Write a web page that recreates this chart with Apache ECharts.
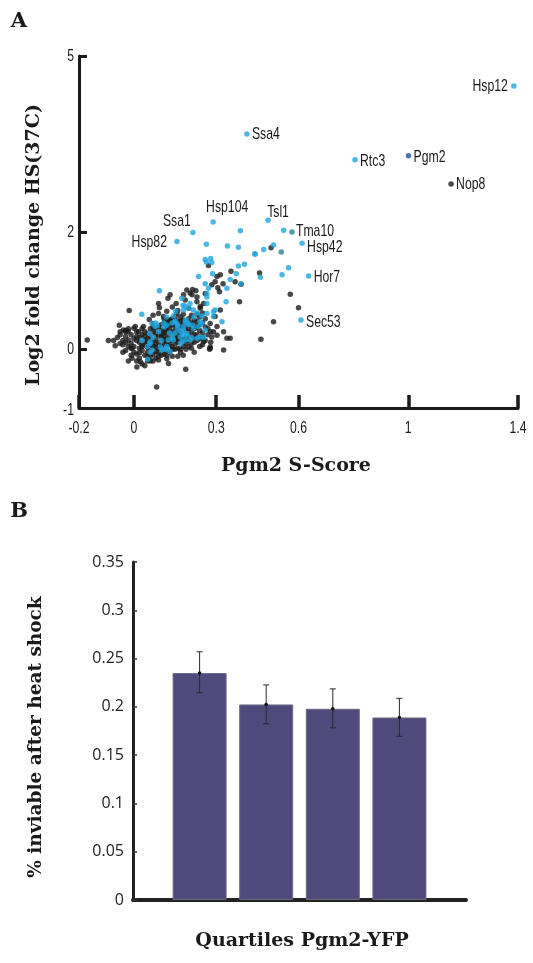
<!DOCTYPE html>
<html><head><meta charset="utf-8">
<script src="https://cdn.jsdelivr.net/npm/echarts@6/dist/echarts.min.js"></script>
<style>html,body{margin:0;padding:0;background:#fff}#c{width:533px;height:963px}</style>
</head><body><div id="c"></div>
<script>
// ---------- Panel A data ----------
const xTicks = [-0.2, 0, 0.3, 0.6, 1, 1.4];
const yTicks = [-1, 0, 2, 5];
const blackPts = [
[-0.17,0.16],[-0.093,0.15],[-0.074,0.15],[-0.068,0.06],[-0.053,0.41],[-0.05,0.30],[-0.038,0.33],[-0.029,0.32],[-0.04,0.15],[-0.02,0.16],[-0.017,0.66],[-0.02,0.30],[0.0,0.36],[0.005,0.39],[0.017,0.30],[0.035,0.39],
[-0.007,0.02],[-0.007,-0.15],[0.023,-0.21],[0.011,-0.30],[0.126,-0.24],[0.09,-0.18],[0.083,-0.64],[0.189,-0.34],
[0.132,0.93],[0.124,0.87],[0.154,0.78],[0.093,0.71],[0.09,0.61],[0.056,0.51],[0.108,0.56],[0.132,0.50],[0.069,0.44],
[0.205,0.96],[0.23,0.89],[0.157,0.61],[0.187,0.84],[0.242,0.73],
[0.193,1.01],[0.214,1.02],[0.226,1.00],[0.181,0.93],[0.212,0.93],[0.26,0.95],[0.254,0.78],[0.23,0.81],[0.242,0.70],
[0.315,0.67],[0.296,0.56],[0.327,0.30],[0.339,0.19],[0.351,0.19],[0.29,0.30],[0.303,0.24],[0.284,0.21],[0.327,-0.01],[0.278,0.02],
[0.278,0.44],[0.303,0.39],[0.217,0.21],[0.254,0.13],[0.278,0.04],[0.276,0.0],
[0.303,1.24],[0.315,1.27],[0.296,1.15],[0.325,1.12],[0.284,1.10],[0.369,1.15],[0.391,1.11],[0.312,0.98],[0.306,1.05],[0.385,0.81],
[0.57,0.94],[0.60,0.71],[0.509,0.47],[0.463,0.17],
[0.272,1.43],[0.354,1.33],[0.458,1.30],[0.50,1.73],
[0.00,0.05],[0.01,-0.08],[0.02,0.12],[0.03,-0.02],[0.01,0.22],[0.04,0.08],[0.02,-0.15],[0.04,-0.10],[0.05,0.18],[0.03,0.25],[0.00,-0.05],[0.05,-0.05],[0.04,0.30],[0.02,0.02],[0.05,0.03],[0.01,0.15],[0.03,-0.25],[0.05,-0.20],[-0.01,0.10],[0.04,0.16],
[0.06,0.02],[0.07,-0.08],[0.06,0.22],[0.08,0.10],[0.07,0.30],[0.09,-0.05],[0.08,0.18],[0.10,0.05],[0.06,-0.12],[0.09,0.25],[0.07,0.14],[0.10,0.32],[0.08,-0.15],[0.09,0.38],[0.10,-0.10],[0.06,0.35],[0.07,-0.20],[0.08,0.04],[0.10,0.20],[0.09,0.12],[0.06,0.08],[0.05,0.12],
[0.11,0.10],[0.12,0.28],[0.11,-0.02],[0.13,0.15],[0.12,0.40],[0.14,0.05],[0.13,0.35],[0.15,0.22],[0.11,0.22],[0.12,-0.10],[0.14,0.30],[0.13,-0.05],[0.15,0.10],[0.11,0.45],[0.14,0.42],[0.12,0.08],[0.15,0.38],[0.13,0.24],[0.14,-0.12],[0.15,0.00],[0.11,0.33],[0.12,0.18],
[0.16,0.12],[0.17,0.40],[0.16,0.25],[0.18,0.05],[0.17,0.18],[0.19,0.32],[0.18,0.45],[0.16,0.02],[0.19,0.10],[0.17,-0.05],[0.20,0.25],[0.18,0.50],[0.19,0.40],[0.16,0.48],[0.20,0.05],[0.17,0.55],[0.18,-0.10],[0.20,0.35],[0.19,0.20],[0.16,-0.12],
[0.21,0.30],[0.22,0.12],[0.21,0.45],[0.23,0.25],[0.22,0.50],[0.24,0.05],[0.23,0.38],[0.25,0.28],[0.24,0.55],[0.21,0.02],[0.26,0.15],[0.25,0.45],[0.22,0.35],[0.26,0.38],[0.23,0.60],[0.27,0.25],[0.24,0.18],[0.25,0.08],[0.21,0.58],[0.22,-0.05],
[-0.02,0.05],[-0.03,0.22],[-0.04,0.08],[-0.01,-0.10],[-0.02,-0.20],[-0.01,0.25],[-0.03,-0.02],[0.00,0.18],
[0.09,0.78],[0.12,0.65],[0.07,0.58],[0.14,0.72],[0.16,0.66],[0.11,0.52],[0.18,0.60],[0.20,0.70],
[-0.06,0.20],[-0.05,0.10],[-0.04,-0.05],[-0.03,0.12],[-0.02,0.35],[-0.01,0.02],[-0.05,0.25],[-0.03,0.30],
[0.01,0.30],[0.02,0.20],[0.03,0.08],[0.04,0.22],[0.02,-0.06],[0.03,0.35],[0.05,0.27],[0.06,0.15],[0.07,0.05],[0.08,0.26],[0.09,0.02],[0.07,0.38],[0.08,0.33],[0.06,-0.20],[0.04,-0.28],[0.09,-0.12],[0.10,0.42],[0.01,-0.20],[0.03,0.05],[0.05,-0.12],[0.08,-0.04],[0.10,0.26],
[0.11,0.15],[0.12,0.35],[0.13,0.08],[0.14,0.15],[0.15,0.30],[0.16,0.18],[0.17,0.28],[0.18,0.15],[0.19,0.45],[0.11,-0.08],[0.13,0.48],[0.15,0.55],[0.12,0.50],[0.17,0.48],[0.14,0.00],[0.16,0.35],[0.18,0.38],[0.19,0.00],[0.20,0.15],[0.11,0.28],[0.13,0.42],[0.15,0.16],[0.17,0.00],[0.12,-0.16],[0.14,0.52],
[0.21,0.10],[0.22,0.25],[0.23,0.15],[0.24,0.32],[0.25,0.20],[0.26,0.52],[0.22,0.42],[0.23,0.48],[0.24,0.42],[0.27,0.35],[0.28,0.30],[0.21,0.38],[0.25,0.62],[0.20,0.52],[0.28,0.12]
];
const bluePts = [
[0.093,1.00],[0.175,0.87],[0.029,0.60],[0.152,0.65],[0.187,0.74],[0.118,0.55],[0.144,0.57],[0.066,0.44],[0.084,0.41],[0.12,0.41],[0.157,0.44],[0.181,0.39],[0.057,0.27],[0.059,0.13],[0.066,-0.01],[0.05,-0.17],[0.102,-0.01],[0.12,0.02],[0.132,-0.04],[0.144,0.16],[0.169,0.21],[0.193,0.24],
[0.266,0.95],[0.266,0.78],[0.179,0.75],[0.205,0.78],[0.232,0.62],[0.248,0.57],[0.266,0.61],[0.29,0.56],[0.078,0.39],[0.108,0.45],[0.139,0.45],[0.16,0.35],[0.17,0.30],[0.18,0.25],[0.15,0.28],[0.195,0.45],[0.215,0.41],[0.236,0.39],[0.248,0.44],[0.059,0.10],[0.096,0.04],[0.114,0.0],[0.126,0.16],[0.175,0.13],[0.187,0.16],[0.242,0.21],
[0.236,1.24],[0.287,1.29],[0.373,1.29],[0.351,1.19],[0.461,1.23],[0.54,1.27],[0.564,1.39],[0.26,1.12],[0.272,1.04],[0.266,0.89],[0.339,1.04],[0.336,0.81],[0.29,0.64],[0.296,0.67],[0.199,0.70],[0.217,0.67],[0.181,0.67],[0.321,0.47],[0.187,0.47],[0.217,0.36],[0.242,0.47],[0.193,0.27],[0.23,0.19],[0.205,0.16],[0.26,0.33],[0.254,0.20],[0.39,1.12],
[0.264,1.49],[0.284,1.48],[0.381,1.42],[0.403,1.45],[0.442,1.62],[0.388,2.02],[0.264,1.79],[0.341,1.76],[0.381,1.74],[0.441,1.63],[0.473,1.70],[0.509,1.78],[0.546,2.03],[0.26,1.53],[0.28,1.55],
[0.05,0.05],[0.06,-0.05],[0.07,0.20],[0.09,0.30],[0.10,0.15],[0.11,0.38],[0.12,0.05],[0.13,0.28],[0.14,0.20],[0.15,0.48],[0.16,0.40],[0.17,0.10],[0.18,0.33],[0.19,0.50],[0.20,0.42],[0.21,0.20],[0.22,0.55],[0.08,0.45],[0.03,0.15]
];
const tealPts = [[0.537,1.66]];
const geneNames = ['Hsp12','Ssa4','Rtc3','Pgm2','Nop8','Hsp104','Ssa1','Hsp82','Tsl1','Tma10','Hsp42','Hor7','Sec53'];
const geneX = [1.385,0.412,0.806,1.001,1.156,0.289,0.215,0.157,0.489,0.576,0.613,0.637,0.609];
const geneY = [4.49,3.67,3.23,3.30,2.82,2.17,1.99,1.84,2.20,2.00,1.81,1.25,0.50];
const geneGroup = ['hs','hs','hs','pgm2','other','hs','hs','hs','hs','teal','hs','hs','hs'];

// ---------- Panel B data ----------
const quartiles = ['Q1','Q2','Q3','Q4'];
const inviable = [0.235,0.2025,0.198,0.189];
const errLow = [0.2147,0.1825,0.1783,0.1695];
const errHigh = [0.257,0.2227,0.2186,0.2088];

// ---------- styles ----------
const colors = {other:'#1c1b1b', hs:'#1ea5de', teal:'#2a8099', pgm2:'#1f4ea6'};
// text anchor offsets (px) relative to the dot, and alignment
const labelPlacement = {
  Hsp12:{dx:-6, dy:0, align:'right'},
  Ssa4:{dx:5, dy:0, align:'left'},
  Rtc3:{dx:5, dy:1, align:'left'},
  Pgm2:{dx:5, dy:2, align:'left'},
  Nop8:{dx:5, dy:0, align:'left'},
  Hsp104:{dx:14, dy:-15, align:'center'},
  Ssa1:{dx:-16, dy:-11, align:'center'},
  Hsp82:{dx:-10, dy:1, align:'right'},
  Tsl1:{dx:10, dy:-8, align:'center'},
  Tma10:{dx:4, dy:-1, align:'left'},
  Hsp42:{dx:5, dy:4, align:'left'},
  Hor7:{dx:5, dy:1, align:'left'},
  Sec53:{dx:5, dy:2, align:'left'}
};
const condFont = "17px 'Liberation Sans',Arial,sans-serif";
const condScale = 0.72;
const serif = "'DejaVu Serif',serif";

function groupData(group, pts) {
  const data = pts.map(p => [p[0], p[1]]);
  geneNames.forEach((n, i) => { if (geneGroup[i] === group) data.push([geneX[i], geneY[i]]); });
  return data;
}
function scatterSeries(group, pts) {
  return {type:'scatter', xAxisIndex:0, yAxisIndex:0, symbolSize:5.5, silent:true,
    itemStyle:{color:colors[group]}, data:groupData(group, pts), z:group==='other'?2:3};
}
function condText(x, y, text, align) {
  return {type:'text', x:x, y:y, scaleX:condScale, scaleY:1,
    style:{text:text, font:condFont, fill:'#1a1a1a', align:align, verticalAlign:'middle'}};
}

const chart = echarts.init(document.getElementById('c'), null, {renderer:'canvas'});
const axisCol = '#1a1a1a';
chart.setOption({
  animation:false,
  backgroundColor:'#fff',
  grid:[
    {left:79, top:56, width:439, height:352},
    {left:133, top:562, width:333, height:338}
  ],
  xAxis:[
    {gridIndex:0, type:'value', min:-0.2, max:1.4, interval:0.1,
     axisLine:{onZero:false, lineStyle:{color:axisCol, width:3}},
     axisTick:{inside:true, length:13, customValues:xTicks, lineStyle:{color:axisCol, width:3.5}},
     axisLabel:{show:false},
     splitLine:{show:false}},
    {gridIndex:1, type:'value', min:0, max:5,
     axisLine:{onZero:false, lineStyle:{color:'#222', width:4}},
     axisTick:{show:false}, axisLabel:{show:false}, splitLine:{show:false}}
  ],
  yAxis:[
    {gridIndex:0, type:'value', min:-1, max:5, interval:1,
     axisLine:{onZero:false, lineStyle:{color:axisCol, width:3}},
     axisTick:{inside:true, length:8, customValues:yTicks, lineStyle:{color:axisCol, width:3}},
     axisLabel:{show:false},
     splitLine:{show:false}},
    {gridIndex:1, type:'value', min:0, max:0.35, interval:0.05,
     axisLine:{onZero:false, lineStyle:{color:'#222', width:3}},
     axisTick:{inside:true, length:4, lineStyle:{color:'#333', width:1.5}},
     axisLabel:{margin:9, fontFamily:"'Open Sans',sans-serif", fontSize:16, color:'#222'},
     splitLine:{show:false}}
  ],
  series:[
    scatterSeries('other', blackPts),
    scatterSeries('hs', bluePts),
    scatterSeries('teal', tealPts),
    scatterSeries('pgm2', []),
    // gene labels
    {type:'custom', xAxisIndex:0, yAxisIndex:0, silent:true, z:6,
     data:geneNames.map((n,i)=>[geneX[i], geneY[i], i]),
     renderItem:function(params, api){
       const p = api.coord([api.value(0), api.value(1)]);
       const name = geneNames[api.value(2)];
       const lp = labelPlacement[name];
       return condText(p[0]+lp.dx, p[1]+lp.dy, name, lp.align);
     }},
    // x tick labels (condensed)
    {type:'custom', xAxisIndex:0, yAxisIndex:0, silent:true, z:6,
     data:xTicks.map(v=>[v, -1]),
     renderItem:function(params, api){
       const v = api.value(0);
       const p = api.coord([v, api.value(1)]);
       return condText(p[0], p[1]+20, String(v), 'center');
     }},
    // y tick labels (condensed)
    {type:'custom', xAxisIndex:0, yAxisIndex:0, silent:true, z:6,
     data:yTicks.map(v=>[-0.2, v]),
     renderItem:function(params, api){
       const v = api.value(1);
       const p = api.coord([api.value(0), v]);
       return condText(p[0]-5, p[1]+(v===-1?2:0), String(v), 'right');
     }},
    {type:'bar', xAxisIndex:1, yAxisIndex:1, barWidth:54, silent:true,
     itemStyle:{color:'#4f4a7b', borderColor:'#6d6b80', borderWidth:1},
     data:quartiles.map((q,i)=>[i+1, inviable[i]])},
    {type:'custom', xAxisIndex:1, yAxisIndex:1, silent:true, z:5,
     data:quartiles.map((q,i)=>[i+1, errLow[i], errHigh[i], inviable[i]]),
     renderItem:function(params, api){
       const x = api.value(0);
       const lo = api.coord([x, api.value(1)]);
       const hi = api.coord([x, api.value(2)]);
       const m = api.coord([x, api.value(3)]);
       const st = {stroke:'#2a2a2a', lineWidth:1};
       return {type:'group', children:[
         {type:'line', shape:{x1:hi[0], y1:hi[1], x2:lo[0], y2:lo[1]}, style:st},
         {type:'line', shape:{x1:hi[0]-3, y1:hi[1], x2:hi[0]+3, y2:hi[1]}, style:st},
         {type:'line', shape:{x1:lo[0]-3, y1:lo[1], x2:lo[0]+3, y2:lo[1]}, style:st},
         {type:'circle', shape:{cx:m[0], cy:m[1], r:1.8}, style:{fill:'#111'}}
       ]};
     }}
  ],
  graphic:[
    {type:'text', x:19, y:22, style:{text:'A', font:'bold 21px '+serif, fill:'#1a1a1a', align:'center', verticalAlign:'middle'}},
    {type:'text', x:19, y:512, style:{text:'B', font:'bold 21px '+serif, fill:'#1a1a1a', align:'center', verticalAlign:'middle'}},
    {type:'text', x:34, y:245, rotation:Math.PI/2, style:{text:'Log2 fold change HS(37C)', font:'bold 19px '+serif, fill:'#1a1a1a', align:'center', verticalAlign:'middle'}},
    {type:'text', x:296, y:466, style:{text:'Pgm2 S-Score', font:'bold 19px '+serif, fill:'#1a1a1a', align:'center', verticalAlign:'middle'}},
    {type:'text', x:36, y:737, rotation:Math.PI/2, style:{text:'% inviable after heat shock', font:'bold 18.5px '+serif, fill:'#1a1a1a', align:'center', verticalAlign:'middle'}},
    {type:'text', x:302, y:941, style:{text:'Quartiles Pgm2-YFP', font:'bold 19px '+serif, fill:'#1a1a1a', align:'center', verticalAlign:'middle'}}
  ]
});
</script></body></html>
